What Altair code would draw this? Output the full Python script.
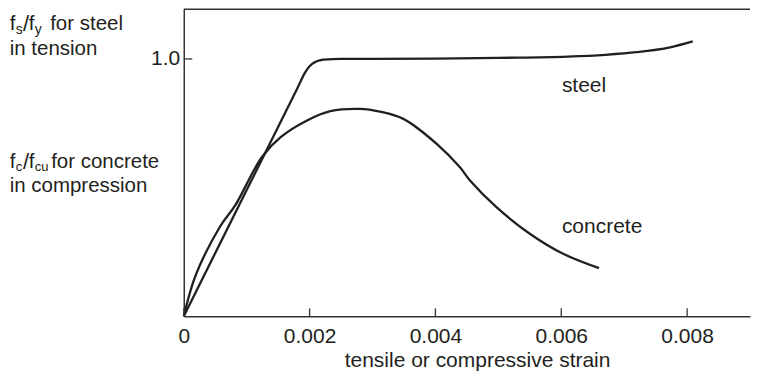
import altair as alt
import pandas as pd

# ---- data ----
steel_strain = [0, 0.0010, 0.0018, 0.00193, 0.00204, 0.00222, 0.0025, 0.0030,
                0.0040, 0.0050, 0.0061, 0.0067, 0.0072, 0.00773, 0.00809]
steel_stress = [0, 0.491, 0.883, 0.948, 0.981, 0.997, 1.000, 1.000,
                1.001, 1.004, 1.009, 1.016, 1.026, 1.045, 1.068]

concrete_strain = [0, 0.00019, 0.00058, 0.00082, 0.00124, 0.00154, 0.00196, 0.00233,
                   0.0028, 0.00312, 0.00349, 0.00402, 0.00439, 0.00455, 0.00497,
                   0.0055, 0.00603, 0.0066]
concrete_stress = [0, 0.160, 0.350, 0.432, 0.618, 0.696, 0.761, 0.797,
                   0.806, 0.795, 0.767, 0.670, 0.579, 0.528, 0.424,
                   0.321, 0.243, 0.187]

x_ticks = [0, 0.002, 0.004, 0.006, 0.008]
y_ticks = [1.0]

curve_labels = ["steel", "concrete"]
curve_label_x = [0.00601, 0.00601]
curve_label_y = [0.893, 0.347]

# ---- layout ----
W, H = 567, 307.5
X0, Y0 = 183.3, 8.5          # page position of plot origin
XMAX, YMAX = 0.009, 1.193
INK = "#231f20"
AX = "#333333"
FONT = "Liberation Sans"
FS = 21

xs = alt.Scale(domain=[0, XMAX], nice=False, zero=False)
ys = alt.Scale(domain=[0, YMAX], nice=False)

x_axis = alt.Axis(
    values=x_ticks, labelExpr="datum.value == 0 ? '0' : format(datum.value, '.3f')",
    title="tensile or compressive strain", tickSize=0, ticks=False, labelPadding=9,
    labelFlush=False, titleX=477 - X0, titleAlign="center", titlePadding=3, grid=False,
    domainColor=AX, domainWidth=1.5)
y_axis = alt.Axis(
    values=y_ticks, format=".1f", title=None, tickSize=0, ticks=False, labelPadding=4,
    labelFlush=False, grid=False, domainColor=AX, domainWidth=1.5)

steel_df = pd.DataFrame({"strain": steel_strain, "stress": steel_stress})
concrete_df = pd.DataFrame({"strain": concrete_strain, "stress": concrete_stress})

steel = alt.Chart(steel_df).mark_line(
    interpolate="monotone", color=INK, strokeWidth=2.3
).encode(
    x=alt.X("strain:Q", scale=xs, axis=x_axis),
    y=alt.Y("stress:Q", scale=ys, axis=y_axis),
)
concrete = alt.Chart(concrete_df).mark_line(
    interpolate="catmull-rom", color=INK, strokeWidth=2.3
).encode(
    x=alt.X("strain:Q", scale=xs, axis=x_axis),
    y=alt.Y("stress:Q", scale=ys, axis=y_axis),
)

# inward tick marks
tick_df = pd.DataFrame({"strain": x_ticks})
xticks = alt.Chart(tick_df).mark_rule(color=AX, strokeWidth=1.3).encode(
    x=alt.X("strain:Q", scale=xs, axis=x_axis),
    y=alt.datum(0),
    y2=alt.datum(0.031),
)
ytick_df = pd.DataFrame({"stress": y_ticks})
yticks = alt.Chart(ytick_df).mark_rule(color=AX, strokeWidth=1.3).encode(
    y=alt.Y("stress:Q", scale=ys, axis=y_axis),
    x=alt.datum(0),
    x2=alt.datum(0.000135),
)

one = pd.DataFrame({"a": [0]})
top_line = alt.Chart(one).mark_rule(color=AX, strokeWidth=1.5).encode(
    x=alt.value(0), x2=alt.value(W), y=alt.value(0),
)

lab_df = pd.DataFrame({"label": curve_labels, "strain": curve_label_x, "stress": curve_label_y})
labels = alt.Chart(lab_df).mark_text(
    align="left", baseline="middle", font=FONT, fontSize=FS, color=INK
).encode(
    x=alt.X("strain:Q", scale=xs, axis=x_axis),
    y=alt.Y("stress:Q", scale=ys, axis=y_axis),
    text="label:N",
)


def txt(s, px, py, size=20.5):
    """annotation text placed at a page position (converted to plot coords)"""
    return alt.Chart(one).mark_text(
        align="left", baseline="alphabetic", font=FONT, fontSize=size, color=INK
    ).encode(x=alt.value(px - X0), y=alt.value(py - Y0), text=alt.value(s))


L1, L2 = 29, 54
M1, M2 = 167, 192
annots = [
    txt("f", 9, L1), txt("s", 15, L1 + 4, 14), txt("/", 22.4, L1 + 1, 22),
    txt("f", 28, L1), txt("y", 34, L1 + 4, 14), txt("for steel", 49.5, L1),
    txt("in tension", 9, L2),
    txt("f", 9, M1), txt("c", 15, M1 + 3.5, 13), txt("/", 22.4, M1 + 1, 22),
    txt("f", 28, M1), txt("cu", 34, M1 + 3.5, 13), txt("for concrete", 50.5, M1),
    txt("in compression", 9, M2),
]

chart = alt.layer(steel, concrete, xticks, yticks, top_line, labels, *annots).properties(
    width=W, height=H, padding={"left": 1, "top": 0, "right": 0, "bottom": 0}
).configure_view(stroke=None).configure_axis(
    labelFont=FONT, labelFontSize=FS, labelColor=INK,
    titleFont=FONT, titleFontSize=FS, titleFontWeight="normal", titleColor=INK,
)

chart.save("out.html", embed_options={"renderer": "svg", "actions": False})
